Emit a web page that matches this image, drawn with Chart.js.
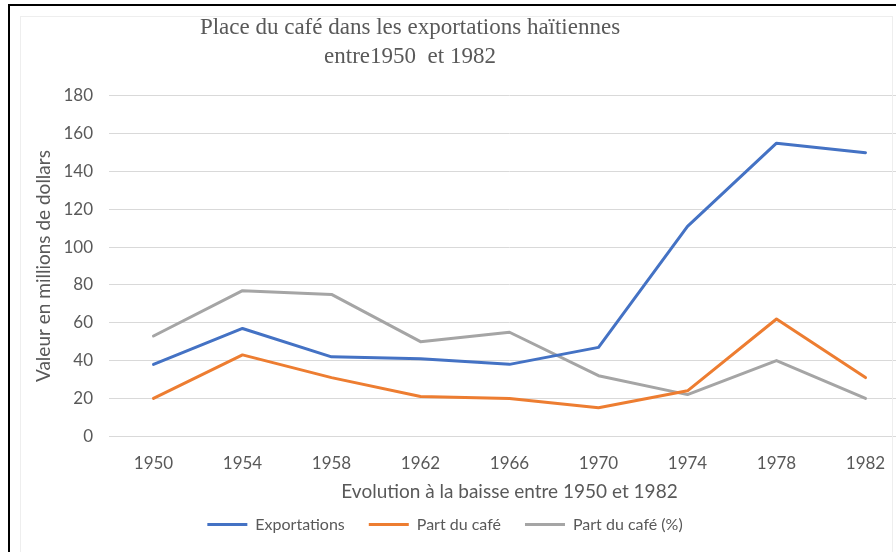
<!DOCTYPE html>
<html>
<head>
<meta charset="utf-8">
<script src="https://cdn.jsdelivr.net/npm/chart.js@4"></script>
<style>
  html, body { margin: 0; padding: 0; background: #fff; overflow: hidden; width: 896px; height: 552px; }
  #wrap { position: relative; width: 896px; height: 552px; overflow: hidden; }
  #chart { position: absolute; left: 0; top: 0; }
  #frame { position: absolute; left: 8px; top: 4px; width: 900px; height: 560px;
           border-top: 2px solid #000; border-left: 2px solid #000; pointer-events: none; }
  #inner { position: absolute; left: 20px; top: 16px; width: 871px; height: 560px;
           border: 1px solid #eeeeee; pointer-events: none; }
</style>
</head>
<body>
<div id="wrap">
  <canvas id="chart" width="910" height="552"></canvas>
  <div id="inner"></div>
  <div id="frame"></div>
</div>
<script>
// Valeurs
const years = ['1950', '1954', '1958', '1962', '1966', '1970', '1974', '1978', '1982'];
const exportations = [38, 57, 42, 41, 38, 47, 111, 155, 150];
const partCafe = [20, 43, 31, 21, 20, 15, 24, 62, 31];
const partCafePct = [53, 77, 75, 50, 55, 32, 22, 40, 20];

const textColor = '#595959';
const gridColor = '#d9d9d9';

// shift title / legend horizontally (reference is not centered on canvas)
const shiftBoxes = {
  id: 'shiftBoxes',
  afterLayout(chart) {
    const t = chart.titleBlock;
    if (t) { t.left -= 58; t.right -= 58; }
    const l = chart.legend;
    if (l) { l.left -= 23; l.right -= 23; }
  }
};

const ctx = document.getElementById('chart').getContext('2d');
new Chart(ctx, {
  type: 'line',
  data: {
    labels: years,
    datasets: [
      { label: 'Exportations', data: exportations, borderColor: '#4472c4', backgroundColor: '#4472c4', borderWidth: 3 },
      { label: 'Part du café', data: partCafe, borderColor: '#ed7d31', backgroundColor: '#ed7d31', borderWidth: 3 },
      { label: 'Part du café (%)', data: partCafePct, borderColor: '#a5a5a5', backgroundColor: '#a5a5a5', borderWidth: 3 }
    ]
  },
  options: {
    responsive: false,
    animation: false,
    devicePixelRatio: 1,
    layout: { padding: { left: 26, top: 0, right: 0, bottom: 9.4 } },
    elements: {
      line: { tension: 0, borderCapStyle: 'round', borderJoinStyle: 'round' },
      point: { radius: 0, hoverRadius: 0 }
    },
    plugins: {
      title: {
        display: true,
        text: ['Place du café dans les exportations haïtiennes', 'entre1950  et 1982'],
        color: textColor,
        font: { family: 'Liberation Serif', size: 23, weight: 'normal', lineHeight: 1.26 },
        padding: { top: 13.5, bottom: 24.5 }
      },
      legend: {
        position: 'bottom',
        labels: {
          color: textColor,
          font: { family: 'Lato', size: 16 },
          usePointStyle: true,
          pointStyle: 'line',
          pointStyleWidth: 40,
          padding: 24
        }
      },
      tooltip: { enabled: false }
    },
    scales: {
      x: {
        offset: true,
        grid: { display: false, drawTicks: false },
        border: { display: true, color: gridColor, width: 1 },
        ticks: { color: textColor, font: { family: 'Lato', size: 17 }, padding: 17, maxRotation: 0 },
        title: {
          display: true,
          text: 'Evolution à la baisse entre 1950 et 1982',
          color: textColor,
          font: { family: 'Lato', size: 19 },
          padding: { top: 0, bottom: -11 }
        },
        afterFit(scale) { scale.height = 56.4; }
      },
      y: {
        min: 0,
        max: 180,
        ticks: { stepSize: 20, color: textColor, font: { family: 'Lato', size: 17 }, padding: 16 },
        grid: { color: gridColor, drawTicks: false, lineWidth: 1 },
        border: { display: false },
        title: {
          display: true,
          text: 'Valeur en millions de dollars',
          color: textColor,
          font: { family: 'Lato', size: 19 },
          padding: { top: 6.6, bottom: 0 }
        },
        afterFit(scale) { scale.width = 83; }
      }
    }
  },
  plugins: [shiftBoxes]
});
</script>
</body>
</html>
